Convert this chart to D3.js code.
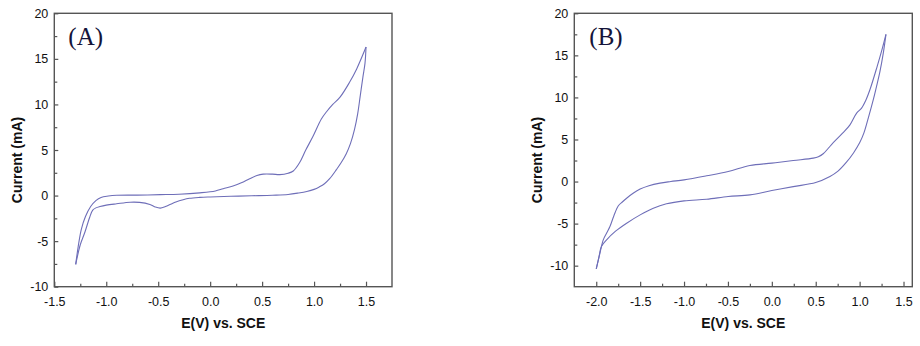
<!DOCTYPE html>
<html>
<head>
<meta charset="utf-8">
<script src="https://cdn.jsdelivr.net/npm/d3@7"></script>
<style>
body{margin:0;background:#fff;}
svg text{font-family:Arial,"Liberation Sans",sans-serif;}
</style>
</head>
<body>
<svg id="chart" width="920" height="346"></svg>
<script>
// panel A : anodic sweep then return
var aFwdE=[-1.294,-1.27,-1.24,-1.2,-1.15,-1.1,-1.05,-0.98,-0.9,-0.7,-0.48,-0.3,-0.1,0.05,0.125,0.22,0.3,0.38,0.45,0.51,0.6,0.67,0.75,0.8,0.86,0.92,0.99,1.07,1.12,1.18,1.25,1.34,1.41,1.5];
var aFwdI=[-7.55,-5.6,-3.7,-2.3,-1.2,-0.55,-0.2,-0.05,0.03,0.05,0.1,0.15,0.3,0.5,0.75,1.05,1.4,1.85,2.2,2.35,2.35,2.3,2.45,2.7,3.6,5.0,6.5,8.4,9.2,10.0,10.8,12.4,13.9,16.3];
var aRevE=[1.5,1.49,1.47,1.445,1.42,1.39,1.35,1.31,1.26,1.215,1.15,1.1,1.05,1.0,0.93,0.85,0.75,0.6,0.4,0.2,0.0,-0.1,-0.2,-0.26,-0.33,-0.38,-0.43,-0.48,-0.53,-0.58,-0.68,-0.77,-0.9,-1.0,-1.06,-1.1,-1.13,-1.16,-1.205,-1.25,-1.294];
var aRevI=[16.3,14.5,13.0,11.0,9.0,7.3,5.7,4.6,3.6,2.85,1.85,1.3,0.95,0.68,0.45,0.28,0.12,0.04,-0.02,-0.08,-0.15,-0.2,-0.3,-0.45,-0.7,-0.95,-1.2,-1.38,-1.25,-0.98,-0.75,-0.73,-0.9,-1.05,-1.2,-1.35,-1.6,-2.4,-4.0,-5.4,-7.55];

// panel B
var bFwdE=[-2.0,-1.96,-1.92,-1.88,-1.844,-1.8,-1.75,-1.7,-1.654,-1.58,-1.5,-1.4,-1.274,-1.15,-1.0,-0.743,-0.497,-0.25,0.0,0.244,0.472,0.53,0.585,0.68,0.806,0.89,0.966,1.02,1.072,1.12,1.2,1.25,1.3];
var bFwdI=[-10.38,-8.6,-6.93,-6.1,-5.35,-4.1,-2.9,-2.4,-1.98,-1.4,-0.9,-0.5,-0.19,0.0,0.2,0.68,1.19,1.9,2.19,2.5,2.78,2.95,3.3,4.4,5.75,6.74,8.13,8.7,9.7,11.0,13.7,15.5,17.5];
var bRevE=[1.3,1.27,1.23,1.19,1.155,1.1,1.048,1.0,0.93,0.85,0.75,0.662,0.5,0.244,0.0,-0.25,-0.497,-0.743,-1.0,-1.2,-1.35,-1.5,-1.654,-1.78,-1.882,-1.94,-1.97,-2.0];
var bRevI=[17.5,15.3,13.0,11.2,9.7,7.6,5.75,4.6,3.4,2.3,1.2,0.6,-0.12,-0.6,-1.07,-1.58,-1.78,-2.1,-2.3,-2.65,-3.17,-3.96,-4.95,-5.9,-6.93,-7.7,-9.0,-10.38];

var aXTicks=[-1.5,-1.0,-0.5,0.0,0.5,1.0,1.5];
var aYTicks=[-10,-5,0,5,10,15,20];
var bXTicks=[-2.0,-1.5,-1.0,-0.5,0.0,0.5,1.0,1.5];
var bYTicks=[-10,-5,0,5,10,15,20];

var svg=d3.select("#chart");
var plotH=273.4, plotTop=13.3;

function toPoints(es,is){
    return es.map(function(e,i){return {x:e,y:is[i]};});
}

function panel(opt){
    var width=opt.right-opt.left;
    var g=svg.append("g")
        .attr("transform","translate("+opt.left+","+plotTop+")");

    var x=d3.scaleLinear().domain(opt.xDomain).range([0,width]);
    var y=d3.scaleLinear().domain(opt.yDomain).range([plotH,0]);

    // minor ticks halfway between majors
    var xMinor=opt.xTicks.slice(0,-1).map(function(t,i){return (t+opt.xTicks[i+1])/2;})
        .concat([opt.xTicks[opt.xTicks.length-1]+0.25]).filter(function(t){return t<opt.xDomain[1];});
    var yMinor=opt.yTicks.slice(0,-1).map(function(t,i){return (t+opt.yTicks[i+1])/2;})
        .concat([opt.yTicks[0]-2.5]).filter(function(t){return t>opt.yDomain[0];});

    var xa=g.append("g").attr("transform","translate(0,"+plotH+")")
        .call(d3.axisBottom(x).tickValues(opt.xTicks).tickSizeInner(-5).tickSizeOuter(0)
            .tickPadding(10).tickFormat(function(d){return d.toFixed(1);}));
    xa.append("g").call(d3.axisBottom(x).tickValues(xMinor).tickSizeInner(-3).tickSizeOuter(0).tickFormat(""));
    var ya=g.append("g")
        .call(d3.axisLeft(y).tickValues(opt.yTicks).tickSizeInner(-4).tickSizeOuter(0).tickPadding(6)
            .tickFormat(function(d){return String(d);}));
    ya.append("g").call(d3.axisLeft(y).tickValues(yMinor).tickSizeInner(-3).tickSizeOuter(0).tickFormat(""));

    g.selectAll(".domain").remove();
    g.selectAll(".tick line").attr("stroke","#555").attr("stroke-width",1.2);
    g.selectAll(".tick text").attr("fill","#111").style("font-size","12.5px");

    g.append("rect").attr("width",width).attr("height",plotH)
        .attr("fill","none").attr("stroke","#555").attr("stroke-width",1.4);

    var line=d3.line()
        .x(function(d){return x(d.x);})
        .y(function(d){return y(d.y);})
        .curve(d3.curveCatmullRom.alpha(0.5));

    [toPoints(opt.fwdE,opt.fwdI),toPoints(opt.revE,opt.revI)].forEach(function(pts){
        g.append("path").datum(pts).attr("d",line)
            .attr("fill","none").attr("stroke","#6e6eb8").attr("stroke-width",1.1);
    });

    g.append("text").attr("x",opt.tagX).attr("y",32)
        .style("font-family","'Liberation Serif','Times New Roman',serif")
        .style("font-size","25px").attr("fill","#14143a").text(opt.tag);

    svg.append("text").attr("x",opt.left+opt.xLabelX).attr("y",328)
        .attr("text-anchor","middle").style("font-weight","bold").style("font-size","14px")
        .attr("fill","#111").text("E(V) vs. SCE");
    svg.append("text").attr("transform","translate("+opt.yLabelX+",160) rotate(-90)")
        .attr("text-anchor","middle").style("font-weight","bold").style("font-size","14px")
        .attr("fill","#111").text("Current (mA)");
}

panel({left:54.3,right:392,xDomain:[-1.5,1.75],yDomain:[-10,20],
    xTicks:aXTicks,yTicks:aYTicks,fwdE:aFwdE,fwdI:aFwdI,revE:aRevE,revI:aRevI,
    tag:"(A)",tagX:14,xLabelX:169,yLabelX:22});
panel({left:574.3,right:912.3,xDomain:[-2.25,1.6],yDomain:[-12.5,20],
    xTicks:bXTicks,yTicks:bYTicks,fwdE:bFwdE,fwdI:bFwdI,revE:bRevE,revI:bRevI,
    tag:"(B)",tagX:15,xLabelX:169,yLabelX:542});
</script>
</body>
</html>
